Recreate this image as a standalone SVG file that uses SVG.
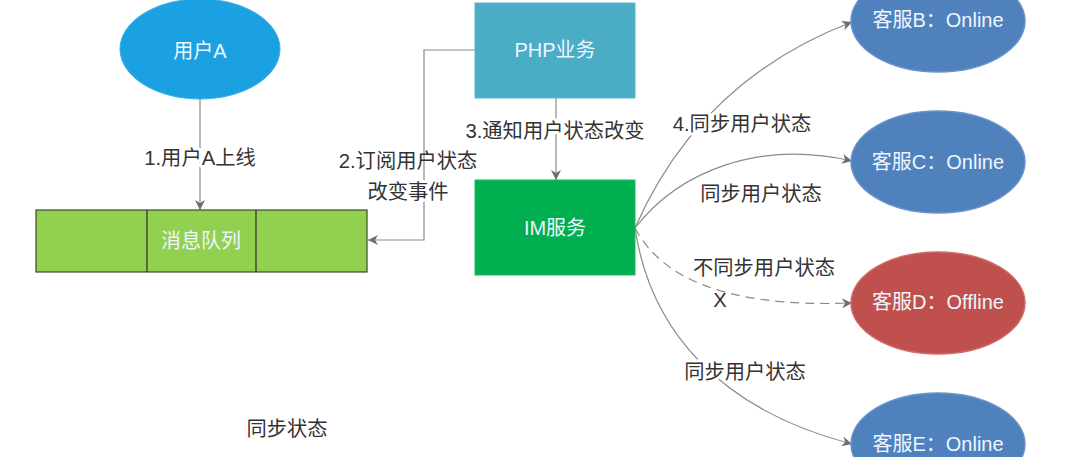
<svg xmlns="http://www.w3.org/2000/svg" width="1080" height="457" viewBox="0 0 1080 457">
<defs>
<marker id="arr" viewBox="0 0 10 10" refX="10" refY="5" markerWidth="10" markerHeight="10" markerUnits="userSpaceOnUse" orient="auto">
<path d="M0,0 L10,5 L0,10 L3,5 Z" fill="#6e6e6e"/>
</marker>
<style>
.lbl{font-family:"Liberation Sans","Noto Sans CJK SC",sans-serif;font-size:20.3px;fill:#333;text-anchor:middle;dominant-baseline:central;paint-order:stroke;stroke:#fff;stroke-width:6px;stroke-linejoin:round}
.ns{stroke:none}
.nt{font-family:"Liberation Sans","Noto Sans CJK SC",sans-serif;font-size:20px;fill:#eef6ff;text-anchor:middle;dominant-baseline:central}
.ln{fill:none;stroke:#8a8a8a;stroke-width:1.2;marker-end:url(#arr)}
.ds{stroke-dasharray:9 6}
.blue{fill:#4f81bd;stroke:#6a93c8;stroke-width:1.5}
</style>
</defs>
<rect width="1080" height="457" fill="#ffffff"/>
<g id="connectors">
<path class="ln" d="M200,99 L200,210"/>
<path class="ln" d="M475,50 L424,50 L424,240 L368,240"/>
<path class="ln" d="M556,98 L556,180"/>
<path class="ln" d="M635,228 Q700,80 852,22"/>
<path class="ln" d="M635,228 C680,170 760,140 852,161"/>
<path class="ln ds" d="M635,228 C660,275 720,308 852,303"/>
<path class="ln" d="M635,228 C650,330 720,410 852,444"/>
</g>
<g id="labels">
<text class="lbl" x="200" y="158">1.用户A上线</text>
<text class="lbl ns" x="408" y="161">2.订阅用户状态</text>
<text class="lbl" x="408" y="192">改变事件</text>
<text class="lbl" x="555" y="131">3.通知用户状态改变</text>
<text class="lbl" x="742" y="124">4.同步用户状态</text>
<text class="lbl" x="761" y="194">同步用户状态</text>
<text class="lbl" x="764" y="268">不同步用户状态</text>
<text class="lbl ns" x="720" y="300">X</text>
<text class="lbl" x="745" y="372">同步用户状态</text>
<text class="lbl" x="287" y="429">同步状态</text>
</g>
<g id="userA">
<ellipse cx="200" cy="49" rx="80" ry="50" fill="#1ba1e2" stroke="#3ab0ea" stroke-width="1"/>
<text class="nt" x="200" y="51">用户A</text>
</g>
<g id="queue">
<rect x="36" y="210" width="331" height="62" fill="#92d050" stroke="#3c4a2a" stroke-width="1.2"/>
<line x1="147" y1="210" x2="147" y2="272" stroke="#2b2b2b" stroke-width="1.2"/>
<line x1="256" y1="210" x2="256" y2="272" stroke="#2b2b2b" stroke-width="1.2"/>
<text class="nt" x="201" y="241">消息队列</text>
</g>
<g id="php">
<rect x="475" y="3" width="160" height="95" fill="#4bacc6" stroke="#5fb6cc" stroke-width="1"/>
<text class="nt" x="555" y="50">PHP业务</text>
</g>
<g id="im">
<rect x="475" y="180" width="160" height="95" fill="#00b050" stroke="#22b860" stroke-width="1"/>
<text class="nt" x="555" y="228">IM服务</text>
</g>
<g id="kfB">
<ellipse class="blue" cx="938" cy="21" rx="87" ry="51"/>
<text class="nt" x="938" y="20">客服B：Online</text>
</g>
<g id="kfC">
<ellipse class="blue" cx="938" cy="162" rx="87" ry="51"/>
<text class="nt" x="938" y="162">客服C：Online</text>
</g>
<g id="kfD">
<ellipse cx="938" cy="303" rx="87" ry="51" fill="#c0504d" stroke="#cf6b68" stroke-width="1.5"/>
<text class="nt" x="938" y="302">客服D：Offline</text>
</g>
<g id="kfE">
<ellipse class="blue" cx="938" cy="444" rx="87" ry="51"/>
<text class="nt" x="938" y="444">客服E：Online</text>
</g>
</svg>
